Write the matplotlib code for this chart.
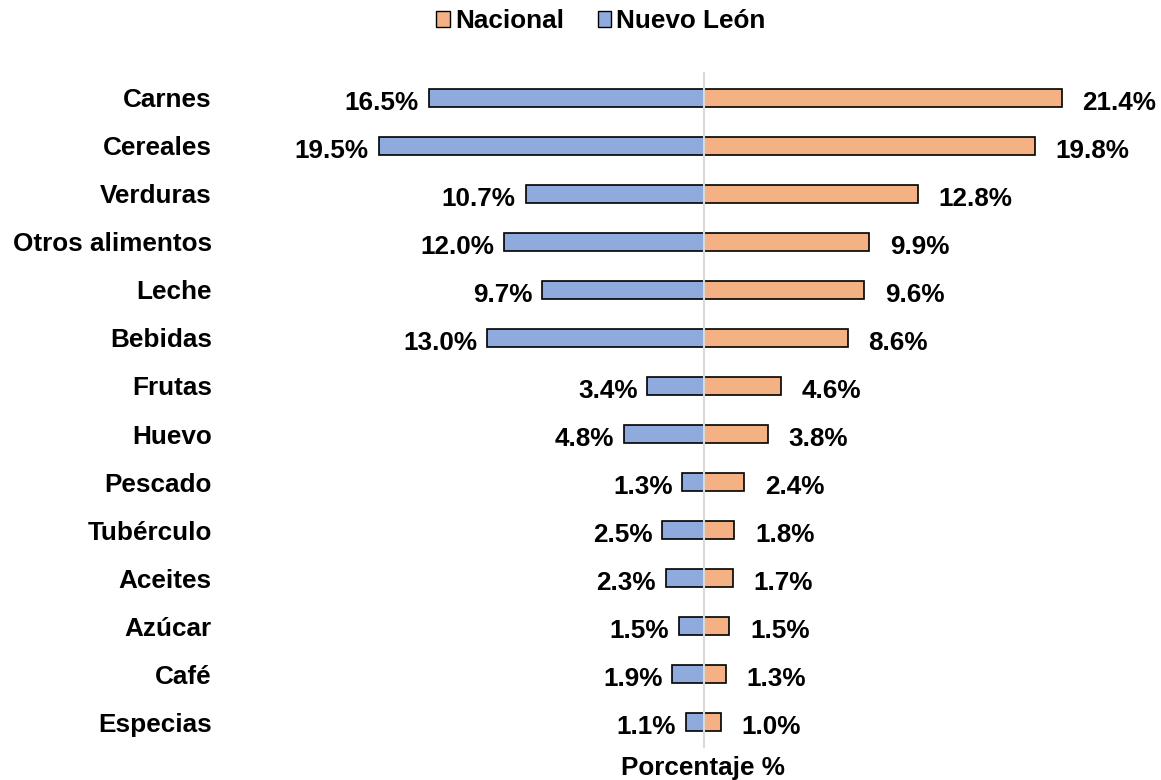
import numpy as np
import matplotlib
matplotlib.use('Agg')
import matplotlib.pyplot as plt
from matplotlib.patches import Patch

# Data
categorias = ["Carnes", "Cereales", "Verduras", "Otros alimentos", "Leche", "Bebidas",
              "Frutas", "Huevo", "Pescado", "Tubérculo", "Aceites", "Azúcar",
              "Café", "Especias"]
nacional = [21.4, 19.8, 12.8, 9.9, 9.6, 8.6, 4.6, 3.8, 2.4, 1.8, 1.7, 1.5, 1.3, 1.0]
nuevo_leon = [16.5, 19.5, 10.7, 12.0, 9.7, 13.0, 3.4, 4.8, 1.3, 2.5, 2.3, 1.5, 1.9, 1.1]

COLOR_NAC = "#F4B183"
COLOR_NL = "#8FAADC"
FS = 18.8

plt.rcParams['font.family'] = ['Liberation Sans', 'DejaVu Sans']

fig = plt.figure(figsize=(11.61, 7.80), dpi=100)
ax = fig.add_axes([230 / 1161, 1 - 748 / 780, 920 / 1161, 676 / 780])

y = np.arange(len(categorias))
h = 0.39
ax.barh(y, nacional, height=h, color=COLOR_NAC, edgecolor="black", linewidth=1.2, zorder=2)
ax.barh(y, [-v for v in nuevo_leon], height=h, color=COLOR_NL, edgecolor="black",
        linewidth=1.2, zorder=2)
ax.axvline(0, color="#D9D9D9", linewidth=1.5, zorder=3)

for yi, vn, vl in zip(y, nacional, nuevo_leon):
    ax.annotate(f"{vn:.1f}%", (vn, yi), xytext=(15, -1.5), textcoords="offset points",
                ha="left", va="center_baseline", fontsize=FS, fontweight="bold")
    ax.annotate(f"{vl:.1f}%", (-vl, yi), xytext=(-7, -1.5), textcoords="offset points",
                ha="right", va="center_baseline", fontsize=FS, fontweight="bold")

ax.set_xlim(-28.4, 26.7)
ax.set_ylim(len(categorias) - 0.46, -0.54)
ax.set_yticks(y)
ax.set_yticklabels(categorias, fontsize=FS, fontweight="bold")
ax.tick_params(axis="y", length=0, pad=13)
ax.set_xticks([])
for s in ax.spines.values():
    s.set_visible(False)

fig.text(703 / 1161, 1 - 765 / 780, "Porcentaje %", ha="center", va="center_baseline",
         fontsize=FS, fontweight="bold")

handles = [Patch(facecolor=COLOR_NAC, edgecolor="black", linewidth=1),
           Patch(facecolor=COLOR_NL, edgecolor="black", linewidth=1)]
fig.legend(handles, ["Nacional", "Nuevo León"], loc="center", ncol=2,
           bbox_to_anchor=(601 / 1161, 1 - 21 / 780), frameon=False,
           prop={"size": FS, "weight": "bold"}, handlelength=0.52, handleheight=0.55,
           handletextpad=0.2, columnspacing=1.28, borderpad=0)

fig.savefig("out.png", dpi=100)
